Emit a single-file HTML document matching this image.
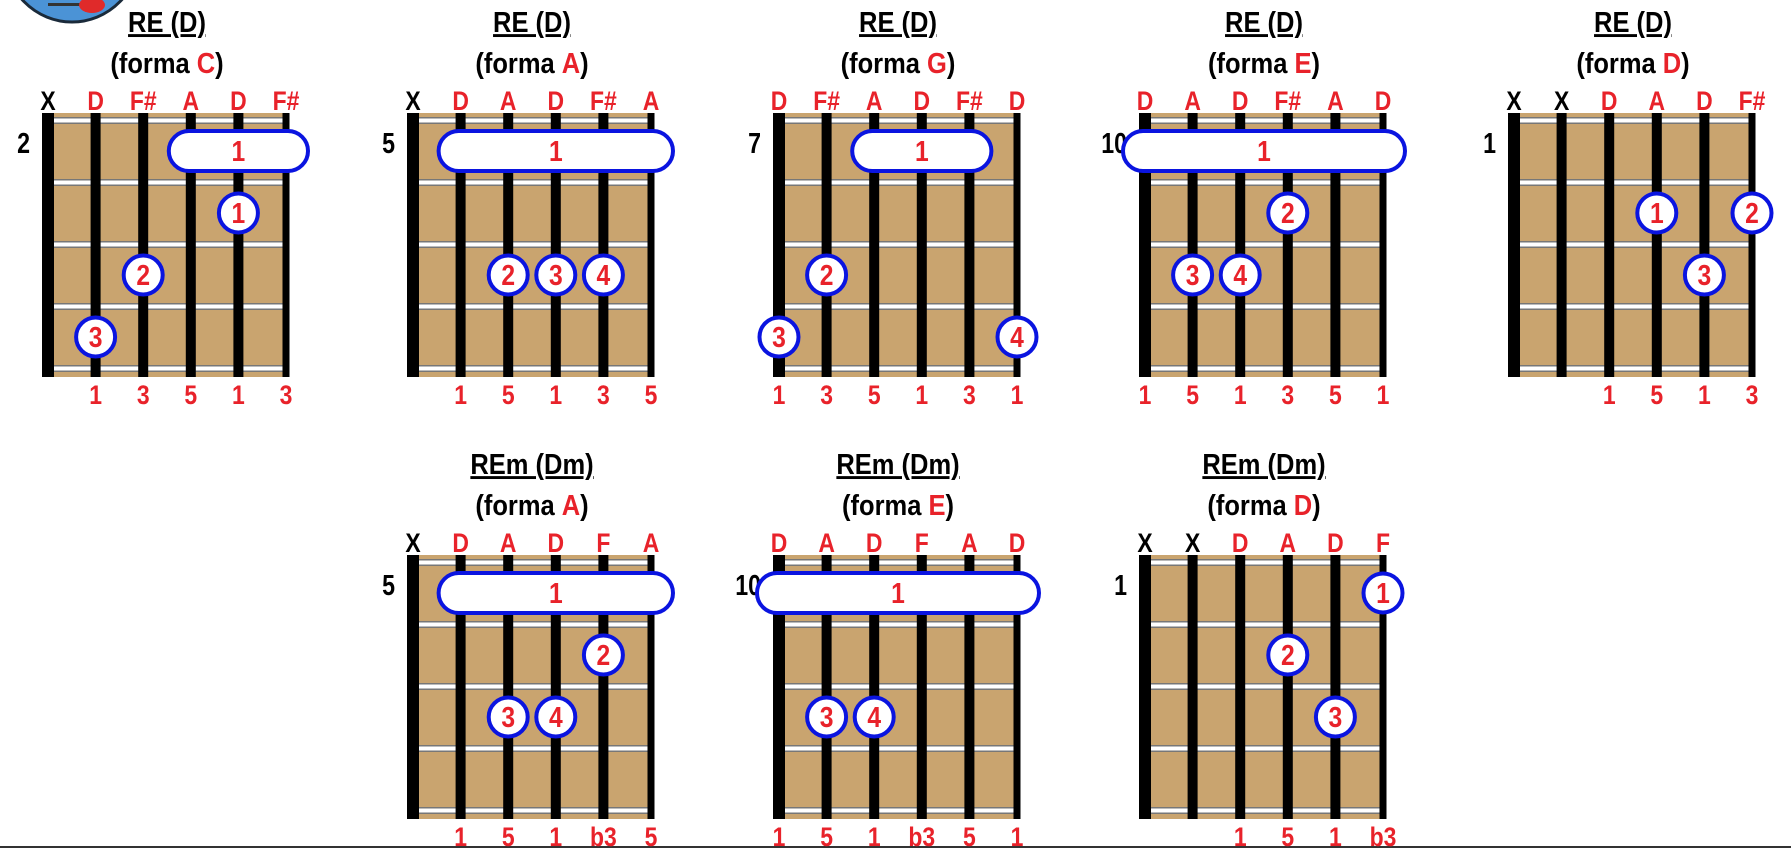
<!DOCTYPE html>
<html><head><meta charset="utf-8"><style>
html,body{margin:0;padding:0;background:#fff;}
svg{display:block;}
text{font-family:"Liberation Sans",sans-serif;font-weight:bold;}
</style></head><body>
<svg id="c" width="1791" height="848" viewBox="0 0 1791 848" xmlns="http://www.w3.org/2000/svg">
<g>
<ellipse cx="72" cy="-48" rx="68" ry="70" fill="#4b93d6" stroke="#1a2a3a" stroke-width="3"/>
<rect x="48" y="3" width="50" height="3" fill="#333"/>
<ellipse cx="92" cy="5" rx="13" ry="8" fill="#e02a2a"/>
</g>
<line x1="0" y1="847" x2="1791" y2="847" stroke="#333" stroke-width="2"/>
</svg>
<script>
const titles=["RE (D)","RE (D)","RE (D)","RE (D)","RE (D)","REm (Dm)","REm (Dm)","REm (Dm)"];
const forms=["C","A","G","E","D","A","E","D"];
const topLabels=[["X","D","F#","A","D","F#"],["X","D","A","D","F#","A"],["D","F#","A","D","F#","D"],["D","A","D","F#","A","D"],["X","X","D","A","D","F#"],["X","D","A","D","F","A"],["D","A","D","F","A","D"],["X","X","D","A","D","F"]];
const bottomLabels=[["","1","3","5","1","3"],["","1","5","1","3","5"],["1","3","5","1","3","1"],["1","5","1","3","5","1"],["","","1","5","1","3"],["","1","5","1","b3","5"],["1","5","1","b3","5","1"],["","","1","5","1","b3"]];
const fretNums=["2","5","7","10","1","5","10","1"];
const barres=[[3,5,1],[1,5,1],[2,4,1],[0,5,1],null,[1,5,1],[0,5,1],null];
const dots=[[[4,2,1],[2,3,2],[1,4,3]],[[2,3,2],[3,3,3],[4,3,4]],[[1,3,2],[0,4,3],[5,4,4]],[[3,2,2],[1,3,3],[2,3,4]],[[3,2,1],[5,2,2],[4,3,3]],[[4,2,2],[2,3,3],[3,3,4]],[[1,3,3],[2,3,4]],[[5,1,1],[3,2,2],[4,3,3]]];
const cols=[0,1,2,3,4,1,2,3];
const rows=[0,0,0,0,0,1,1,1];

const NS="http://www.w3.org/2000/svg";
const svg=document.getElementById('c');
const RED="#e8222a";
function mk(tag,attrs,parent,txt){const e=document.createElementNS(NS,tag);for(const k in attrs)e.setAttribute(k,attrs[k]);if(txt!==undefined)e.textContent=txt;parent.appendChild(e);return e;}
function txt(parent,x,y,size,fill,anchor,s,sc){
  return mk('text',{x:0,y:0,transform:`translate(${x},${y}) scale(${sc||0.85},1)`,'text-anchor':anchor,'font-size':size,fill:fill},parent,s);
}
const colX=[48,413,779,1145,1514], rowY=[113,555], SP=47.6, FS=62;
function sx(x0,i){return x0+SP*i;}
function fy(y0,f){return y0+7+FS*(f-0.5);}

for(let d=0;d<titles.length;d++){
  const x0=colX[cols[d]], y0=rowY[rows[d]];
  const g=mk('g',{},svg);
  
  
  const cx=x0+SP*2.5;
  const t=txt(g,cx,y0-81,29,'#000','middle',titles[d],0.88);
  t.setAttribute('text-decoration','underline');
  
  
  const st=txt(g,cx,y0-40,29,'#000','middle',undefined,0.88);
  
  
  mk('tspan',{},st,'(forma ');
  mk('tspan',{fill:RED},st,forms[d]);
  mk('tspan',{},st,')');
  const b=mk('rect',{x:x0+6,y:y0,width:SP*5-6,height:264,fill:'#c9a46f'},g);
  
  
  for(let f=0;f<5;f++){
    const y=y0+7+FS*f;
    mk('rect',{x:x0+6,y:y-3,width:SP*5-6,height:7,fill:'#777'},g);
    const fl=mk('rect',{x:x0+6,y:y-1.5,width:SP*5-6,height:4,fill:'#fff'},g);
    
    
  }
  for(let s=0;s<6;s++){
    const w=s==0?12:(s==5?7:10);
    const sr=mk('rect',{x:sx(x0,s)-w/2,y:y0,width:w,height:264,fill:'#000'},g);
    
    
    const tl=topLabels[d][s];
    const tt=txt(g,sx(x0,s),y0-3,27,tl=="X"?'#000':RED,'middle',tl);
    
    
    const bl=bottomLabels[d][s];
    if(bl){
      const bt=txt(g,sx(x0,s),y0+291,27,RED,'middle',bl);
      
      
    }
  }
  const fn=txt(g,x0-18,y0+40,29,'#000','end',fretNums[d],0.8);
  
  
  const br=barres[d];
  if(br){
    const bx1=sx(x0,br[0])-22, bx2=sx(x0,br[1])+22, by=fy(y0,br[2]);
    const bb=mk('rect',{x:bx1,y:by-20,width:bx2-bx1,height:40,rx:20,ry:20,fill:'#fff',stroke:'#0a14e0','stroke-width':4},g);
    
    
    const btx=txt(g,(bx1+bx2)/2,by+10,29,RED,'middle','1');
    
    
  }
  for(const dt of dots[d]){
    const x=sx(x0,dt[0]), y=fy(y0,dt[1]);
    const c=mk('circle',{cx:x,cy:y,r:19.5,fill:'#fff',stroke:'#0a14e0','stroke-width':4},g);
    
    
    const ct=txt(g,x,y+10,29,RED,'middle',String(dt[2]));
    
    
  }
}
</script>
</body></html>
